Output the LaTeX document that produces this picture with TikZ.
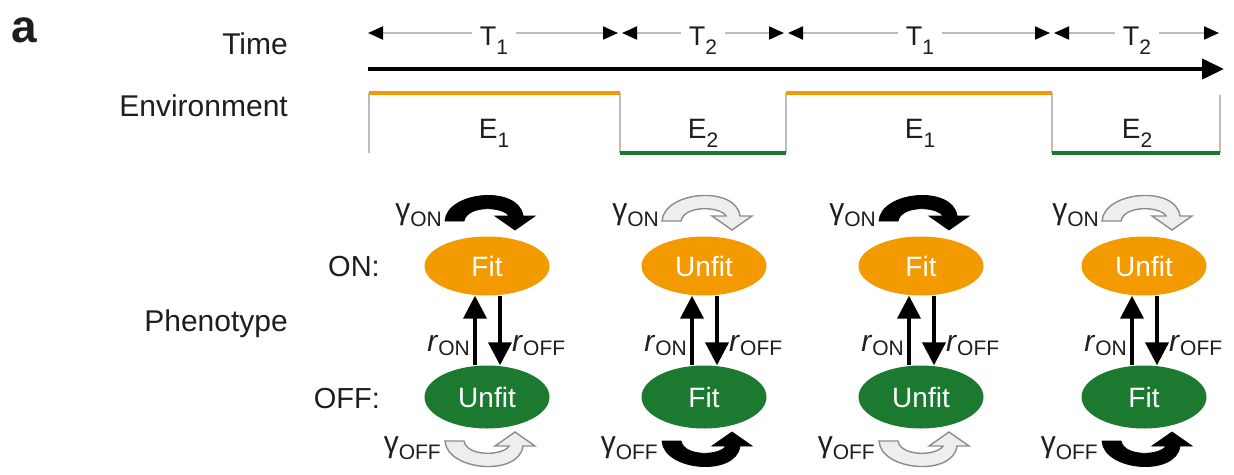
\documentclass[tikz,border=0pt]{standalone}
\usepackage{fontspec}
\setmainfont{Liberation Sans}
\usetikzlibrary{shapes.geometric,arrows.meta}

\definecolor{envorange}{RGB}{243,154,0}
\definecolor{envgreen}{RGB}{28,122,48}
\definecolor{ink}{RGB}{30,30,30}
\definecolor{edgegray}{RGB}{188,188,188}
\definecolor{paleflow}{RGB}{238,238,238}
\definecolor{paleedge}{RGB}{140,140,140}

% lowered subscript in a smaller size
\newcommand{\lowsub}[2][8pt]{\raisebox{-#1}{\fontsize{21}{21}\selectfont #2}}

\tikzset{
  lbl/.style={inner sep=0pt, text=ink, font=\fontsize{30}{36}\selectfont},
  seglbl/.style={inner sep=0pt, inner xsep=8pt, text=ink, font=\fontsize{27}{32}\selectfont},
  period/.style={draw=edgegray, line width=2pt, -{Triangle[length=15pt,width=13pt,color=black]}},
  timeaxis/.style={draw=black, line width=4pt, -{Triangle[length=22pt,width=20pt]}},
  envedge/.style={draw=edgegray, line width=2.5pt},
  envhigh/.style={draw=envorange, line width=3.5pt},
  envlow/.style={draw=envgreen, line width=3.5pt},
  onstate/.style={ellipse, fill=envorange, minimum width=125pt, minimum height=59pt,
    inner sep=0pt, text=white, font=\fontsize{28}{34}\selectfont},
  offstate/.style={ellipse, fill=envgreen, minimum width=125pt, minimum height=63pt,
    inner sep=0pt, text=white, font=\fontsize{28}{34}\selectfont},
  rate/.style={draw=black, line width=4pt, -{Triangle[length=23pt,width=23pt]}},
  darkflow/.style={fill=black, draw=black, line width=0.8pt},
  paleflowarr/.style={fill=paleflow, draw=paleedge, line width=1.4pt},
  % thick curved self-transition arrow, drawn above its base line
  swirl/.pic={
    \path[pic actions] (-42,0) .. controls (-40,-30) and (32,-36) .. (36,-5)
      -- (48,-5) -- (28,9) -- (8,-5) -- (22,-5)
      .. controls (16,-15) and (-20,-16) .. (-23,0) -- cycle;
  }
}

\begin{document}
\begin{tikzpicture}[x=1pt, y=-1pt]
\useasboundingbox (0,0) rectangle (1234,474);

% row titles
\node[lbl, anchor=base west, font=\bfseries\fontsize{46}{46}\selectfont] (panel) at (11,42) {a};
\node[lbl, anchor=base east] (timelbl) at (288,54) {Time};
\node[lbl, anchor=base east] (envlbl) at (288,116) {Environment};
\node[lbl, anchor=base east] (phenolbl) at (288,331) {Phenotype};
\node[lbl, anchor=base east, font=\fontsize{29}{34}\selectfont] (onlbl) at (380,276) {ON:};
\node[lbl, anchor=base east, font=\fontsize{29}{34}\selectfont] (offlbl) at (380,408) {OFF:};

% period ends on the time row
\coordinate (s1l) at (368,33);  \coordinate (s1r) at (618,33);
\coordinate (s2l) at (622,33);  \coordinate (s2r) at (784,33);
\coordinate (s3l) at (788,33);  \coordinate (s3r) at (1050,33);
\coordinate (s4l) at (1054,33); \coordinate (s4r) at (1219,33);

\node[seglbl, anchor=base] (t1) at (494,45) {T\lowsub[9pt]{1}};
\node[seglbl, anchor=base] (t2) at (703,45) {T\lowsub[9pt]{2}};
\node[seglbl, anchor=base] (t3) at (920,45) {T\lowsub[9pt]{1}};
\node[seglbl, anchor=base] (t4) at (1137,45) {T\lowsub[9pt]{2}};

\foreach \k in {1,...,4} {
  \draw[period] (t\k.west |- s\k l) -- (s\k l);
  \draw[period] (t\k.east |- s\k r) -- (s\k r);
}

% time axis
\coordinate (tstart) at (368,69);
\coordinate (tend) at (1224,69);
\draw[timeaxis] (tstart) -- (tend);

% environment trace
\coordinate (e0t) at (369,93);   \coordinate (e0b) at (369,153);
\coordinate (e1t) at (620,93);   \coordinate (e1b) at (620,153);
\coordinate (e2t) at (786,93);   \coordinate (e2b) at (786,153);
\coordinate (e3t) at (1052,93);  \coordinate (e3b) at (1052,153);
\coordinate (e4t) at (1220,95);  \coordinate (e4b) at (1220,153);
\draw[envedge] (e0b) -- (e0t);
\draw[envedge] (e1t) -- (e1b);
\draw[envedge] (e2b) -- (e2t);
\draw[envedge] (e3t) -- (e3b);
\draw[envedge] (e4b) -- (e4t);
\draw[envhigh] (e0t) -- (e1t);
\draw[envlow]  (e1b) -- (e2b);
\draw[envhigh] (e2t) -- (e3t);
\draw[envlow]  (e3b) -- (e4b);

\node[seglbl, anchor=base, font=\fontsize{28}{32}\selectfont] (env1) at (494,138) {E\lowsub[9pt]{1}};
\node[seglbl, anchor=base, font=\fontsize{28}{32}\selectfont] (env2) at (703,138) {E\lowsub[9pt]{2}};
\node[seglbl, anchor=base, font=\fontsize{28}{32}\selectfont] (env3) at (920,138) {E\lowsub[9pt]{1}};
\node[seglbl, anchor=base, font=\fontsize{28}{32}\selectfont] (env4) at (1137,138) {E\lowsub[9pt]{2}};

% phenotype switching in each period
\foreach \cx/\up/\down/\upflow/\downflow/\k in
  {487/Fit/Unfit/darkflow/paleflowarr/1,
   704/Unfit/Fit/paleflowarr/darkflow/2,
   921/Fit/Unfit/darkflow/paleflowarr/3,
   1144/Unfit/Fit/paleflowarr/darkflow/4} {
  \node[onstate] (on\k) at (\cx,266) {\up};
  \node[offstate] (off\k) at (\cx,397) {\down};
  \draw[rate] ([xshift=-12pt]off\k.north) -- ([xshift=-12pt]on\k.south);
  \draw[rate] ([xshift=13pt]on\k.south) -- ([xshift=13pt]off\k.north);
  \node[lbl, anchor=base east] (ron\k) at ({\cx-17},351) {\textit{r}\lowsub[4pt]{ON}};
  \node[lbl, anchor=base west] (roff\k) at ({\cx+25},351) {\textit{r}\lowsub[4pt]{OFF}};
  \pic[\upflow] (gon\k) at (\cx,221) {swirl};
  \pic[\downflow, yscale=-1] (goff\k) at (\cx,441) {swirl};
  \node[lbl, anchor=base east] (gonlbl\k) at ({\cx-45},219) {γ\lowsub[7pt]{ON}};
  \node[lbl, anchor=base east] (gofflbl\k) at ({\cx-46},452) {γ\lowsub[7pt]{OFF}};
}
\end{tikzpicture}
\end{document}
